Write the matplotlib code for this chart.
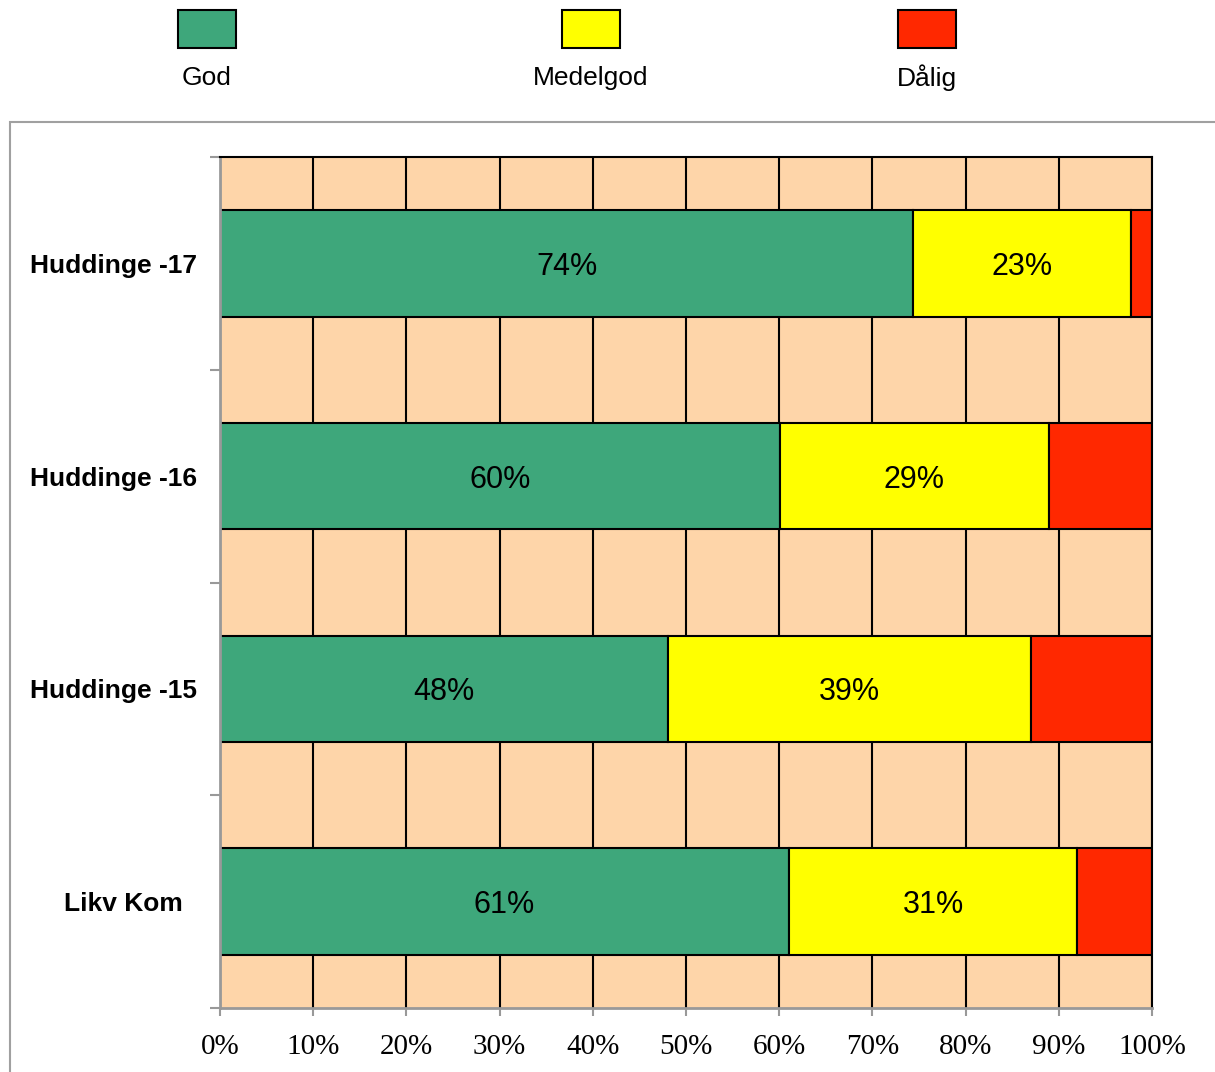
import matplotlib
matplotlib.use("Agg")
import matplotlib.pyplot as plt
from matplotlib.patches import Rectangle
import matplotlib.transforms as mtrans
import numpy as np

categories = ["Huddinge -17", "Huddinge -16", "Huddinge -15", "Likv Kom"]
series_names = ["God", "Medelgod", "Dålig"]
god = [74.4, 60.1, 48.1, 61.0]
medelgod = [23.3, 28.8, 38.9, 31.0]
dalig = [2.3, 11.1, 13.0, 8.0]
god_labels = ["74%", "60%", "48%", "61%"]
medel_labels = ["23%", "29%", "39%", "31%"]
x_ticks = [0, 10, 20, 30, 40, 50, 60, 70, 80, 90, 100]
x_tick_labels = [f"{t}%" for t in x_ticks]

colors = ["#3EA77B", "#FFFF00", "#FF2800"]
peach = "#FED5A9"

W, H = 1215, 1072
fig = plt.figure(figsize=(W / 100, H / 100), dpi=100)
ax = fig.add_axes([220 / W, 1 - 1008 / H, (1152 - 220) / W, (1008 - 157) / H])
ax.set_facecolor(peach)

n = len(categories)
ypos = np.arange(n)[::-1]
left = np.zeros(n)
for vals, c in zip([god, medelgod, dalig], colors):
    ax.barh(ypos, vals, left=left, height=0.5, color=c, edgecolor="black",
            linewidth=1.5, zorder=3)
    left = left + np.array(vals)

left = np.zeros(n)
for vals, labs in zip([god, medelgod], [god_labels, medel_labels]):
    for y, l, v, t in zip(ypos, left, vals, labs):
        ax.text(l + v / 2, y, t, ha="center", va="center_baseline", fontsize=22,
                family="Liberation Sans", zorder=4)
    left = left + np.array(vals)

ax.set_xlim(0, 100)
ax.set_ylim(-0.5, n - 0.5)
ax.set_xticks(x_ticks)
ax.set_xticklabels(x_tick_labels, family="Liberation Serif", fontsize=21)
ax.tick_params(axis="x", direction="out", length=6, width=1.5, color="#999999", pad=13)
for t in x_ticks:
    ax.axvline(t, color="black", lw=1.5, zorder=1)

# category labels (right-aligned left of the axis; last one slightly further in)
ax.set_yticks(ypos)
ax.set_yticklabels([])
ax.tick_params(axis="y", which="major", length=0)
label_trans = mtrans.blended_transform_factory(fig.transFigure, ax.transData)
label_right = [197, 197, 197, 183]
for y, cat, xr in zip(ypos, categories, label_right):
    ax.text(xr / W, y, cat, transform=label_trans, ha="right", va="center_baseline",
            family="Liberation Sans", fontweight="bold", fontsize=19)
ax.set_yticks(np.arange(-0.5, n, 1.0), minor=True)
ax.tick_params(axis="y", which="minor", direction="out", length=7, width=1.5, color="#999999")

for s in ["top", "right"]:
    ax.spines[s].set_color("black")
    ax.spines[s].set_linewidth(1.5)
for s in ["left", "bottom"]:
    ax.spines[s].set_color("#999999")
    ax.spines[s].set_linewidth(2)
for s in ax.spines.values():
    s.set_zorder(5)

# outer chart border
fig.patches.append(Rectangle((10 / W, -0.1), 1.2, 1 - 122 / H + 0.1,
                             transform=fig.transFigure, fill=False,
                             edgecolor="#A0A0A0", linewidth=1.5))

# legend
leg_x = [207, 591, 927]
for name, c, cx in zip(series_names, colors, leg_x):
    fig.patches.append(Rectangle(((cx - 29) / W, 1 - 48 / H), 58 / W, 38 / H,
                                 transform=fig.transFigure, facecolor=c,
                                 edgecolor="black", linewidth=1.5))
    fig.text(cx / W, 1 - 78 / H, name, ha="center", va="center", fontsize=19,
             family="Liberation Sans")

fig.savefig("out.png", dpi=100)
